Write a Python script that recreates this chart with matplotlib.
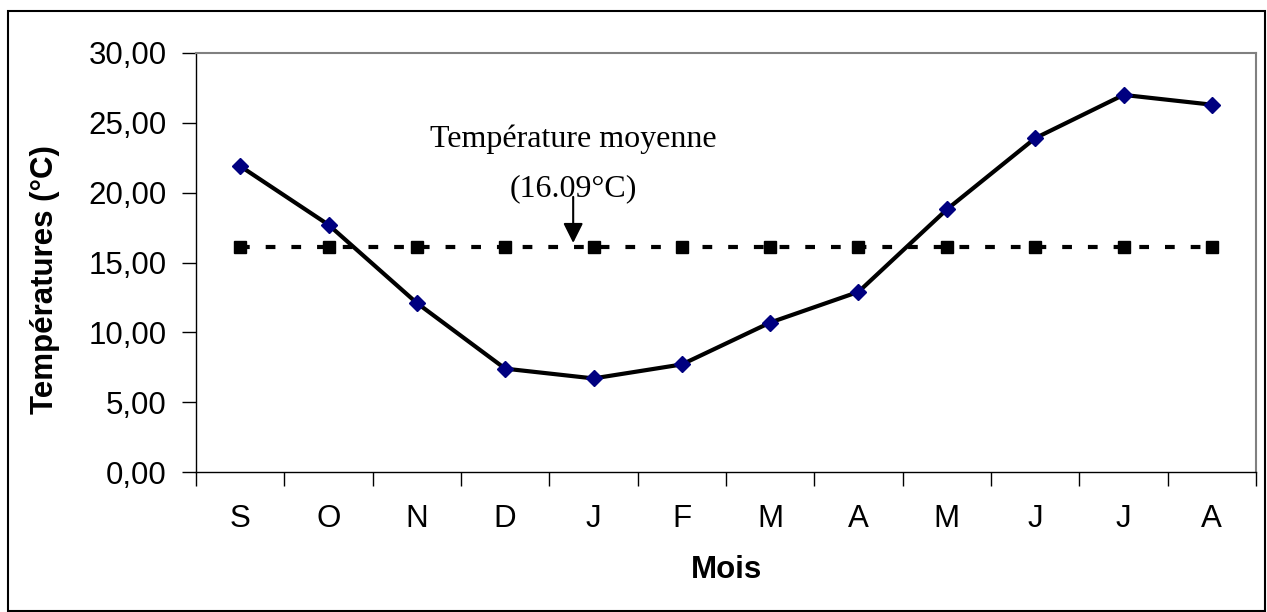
import matplotlib
matplotlib.use("Agg")
import matplotlib.pyplot as plt
from matplotlib.ticker import FuncFormatter, FixedLocator
from matplotlib.patches import Rectangle

mois = ["S", "O", "N", "D", "J", "F", "M", "A", "M", "J", "J", "A"]
temperatures = [21.9, 17.7, 12.1, 7.4, 6.7, 7.7, 10.7, 12.9, 18.8, 23.9, 27.0, 26.3]
moyenne = 16.09
moyenne_serie = [moyenne] * len(mois)

plt.rcParams['font.family'] = ['Liberation Sans', 'DejaVu Sans']
plt.rcParams['lines.scale_dashes'] = False

fig = plt.figure(figsize=(12.67, 6.12), dpi=100)
W, H = 1267, 612
ax = fig.add_axes([196 / W, (H - 472) / H, (1256 - 196) / W, (472 - 53) / H])

x = list(range(len(mois)))
ax.plot(x, moyenne_serie, color='black', lw=3, dashes=(7, 11.5),
        marker='s', ms=8.5, mfc='black', mec='black', zorder=2)
ax.plot(x, temperatures, color='black', lw=3, marker='D', ms=8.5,
        mfc='#000080', mec='#000080', zorder=3)

ax.set_xlim(-0.5, len(mois) - 0.5)
ax.set_ylim(0, 30)
ax.set_yticks([0, 5, 10, 15, 20, 25, 30])
ax.yaxis.set_major_formatter(FuncFormatter(lambda v, p: f"{v:.2f}".replace(".", ",")))

# ticks between categories, labels at centres
ax.xaxis.set_major_locator(FixedLocator([i - 0.5 for i in range(len(mois) + 1)]))
ax.xaxis.set_minor_locator(FixedLocator(x))
ax.set_xticklabels([], minor=False)
ax.set_xticklabels(mois, minor=True)
ax.tick_params(axis='x', which='major', length=10, width=1, direction='out')
ax.tick_params(axis='x', which='minor', length=0, pad=23, labelsize=22.5)
ax.tick_params(axis='y', length=10, width=1, direction='out', pad=11, labelsize=22.5)

for s in ['top', 'right']:
    ax.spines[s].set_color('#808080')
    ax.spines[s].set_linewidth(1.5)
for s in ['left', 'bottom']:
    ax.spines[s].set_color('black')
    ax.spines[s].set_linewidth(1)

fig.text(45 / W, 1 - 280 / H, "Températures (°C)", rotation=90, ha='center',
         va='center', fontsize=22.5, fontweight='bold')
fig.text(727 / W, 1 - 570 / H, "Mois", ha='center', va='center',
         fontsize=22.5, fontweight='bold')

ax.text(3.77, 23.8, "Température moyenne", ha='center', va='center',
        fontsize=23, family=['Liberation Serif', 'DejaVu Serif'])
ax.text(3.77, 20.3, "(16.09°C)", ha='center', va='center',
        fontsize=23, family=['Liberation Serif', 'DejaVu Serif'])
ax.annotate("", xy=(3.77, 16.4), xytext=(3.77, 19.7),
            arrowprops=dict(arrowstyle='-|>', color='black', lw=1.5,
                            mutation_scale=30, shrinkA=0, shrinkB=0))

fig.patches.append(Rectangle((8 / W, 1 / H), (1265 - 8) / W, (H - 11 - 1) / H,
                             transform=fig.transFigure, fill=False,
                             edgecolor='black', lw=1.5))

fig.savefig("out.png", dpi=100)
